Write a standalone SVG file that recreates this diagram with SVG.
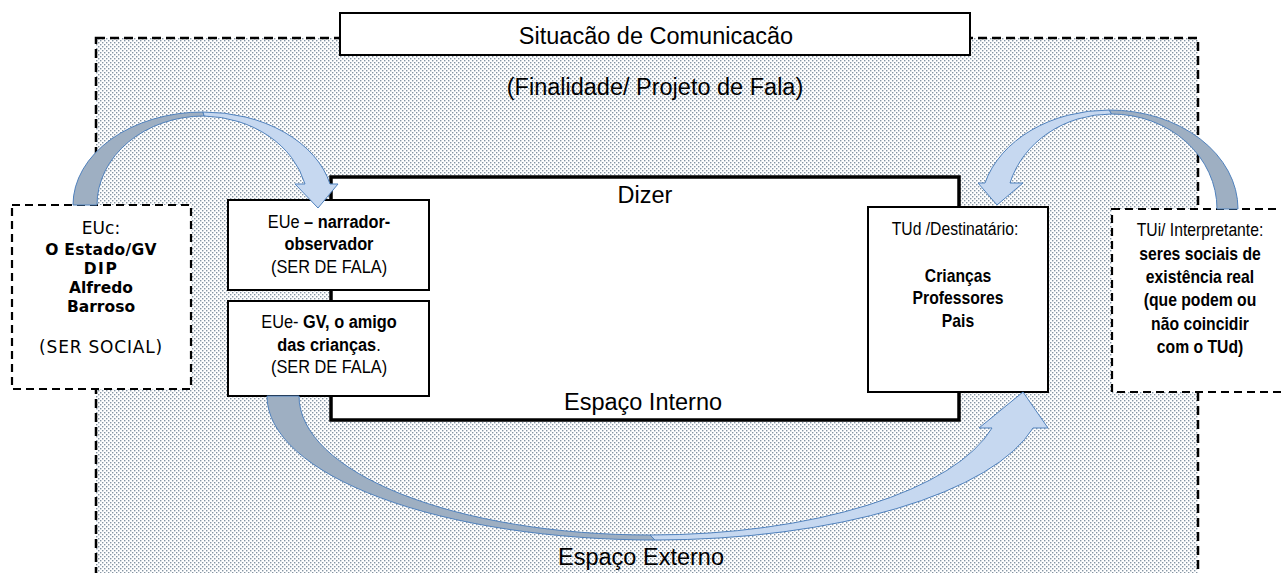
<svg xmlns="http://www.w3.org/2000/svg" width="1281" height="573" viewBox="0 0 1281 573">
<defs>
<pattern id="dots" width="4" height="4" patternUnits="userSpaceOnUse">
<rect width="4" height="4" fill="#ffffff"/>
<rect x="0" y="0" width="1.4" height="1.4" fill="#8595a4"/>
<rect x="2" y="2" width="1.4" height="1.4" fill="#8595a4"/>
</pattern>
<style>
.big{font-family:"Liberation Sans",Arial,sans-serif;font-size:23.5px;fill:#000;text-anchor:middle}
.sm{font-family:"Liberation Sans",Arial,sans-serif;font-size:19px;fill:#000;text-anchor:middle}
.nar{font-family:"Liberation Sans",Arial,sans-serif;font-size:18.5px;fill:#000;text-anchor:middle}
.ver{font-family:"DejaVu Sans",Verdana,sans-serif;fill:#000;text-anchor:middle}
.b{font-weight:bold}
.solid{fill:#fff;stroke:#000;stroke-width:2}
.dash{fill:#fff;stroke:#000;stroke-width:2.2;stroke-dasharray:8 5}
.dark{fill:#9eafc2;stroke:#4f81bd;stroke-width:1}
.light{fill:#c6d8f0;stroke:#4f81bd;stroke-width:1}
</style>
</defs>
<g id="outer">
<rect x="96" y="38" width="1102" height="560" fill="url(#dots)" stroke="#000" stroke-width="2.5" stroke-dasharray="9 5"/>
<text class="big" x="655" y="95">(Finalidade/ Projeto de Fala)</text>
<text class="big" x="641" y="565">Espaço Externo</text>
</g>
<g id="title">
<rect class="solid" x="340" y="13" width="630" height="42"/>
<text class="big" x="656" y="44">Situacão de Comunicacão</text>
</g>
<g id="dizer">
<rect x="331" y="177" width="628" height="243" fill="#fff" stroke="#000" stroke-width="3.5"/>
<text class="big" x="645" y="203">Dizer</text>
<text class="big" x="643" y="410">Espaço Interno</text>
</g>
<g id="euc">
<rect class="dash" x="12" y="205" width="179" height="184"/>
<text class="ver" font-size="17" x="101" y="234">EUc:</text>
<text class="ver b" font-size="15.5" x="101" y="255" letter-spacing="0.3">O Estado/GV</text>
<text class="ver b" font-size="15.5" x="101" y="274" letter-spacing="1.5">DIP</text>
<text class="ver b" font-size="15.5" x="101" y="293">Alfredo</text>
<text class="ver b" font-size="15.5" x="101" y="312">Barroso</text>
<text class="ver" font-size="17" x="101" y="353" letter-spacing="0.8">(SER SOCIAL)</text>
</g>
<g id="eue1">
<rect class="solid" x="228" y="200" width="201" height="90"/>
<text class="sm" transform="translate(329,228) scale(0.86,1)">EUe <tspan class="b">– narrador-</tspan></text>
<text class="sm b" transform="translate(329,250) scale(0.86,1)">observador</text>
<text class="sm" transform="translate(329,273) scale(0.86,1)">(SER DE FALA)</text>
</g>
<g id="eue2">
<rect class="solid" x="228" y="301" width="201" height="95"/>
<text class="sm" transform="translate(329,328) scale(0.86,1)">EUe- <tspan class="b">GV, o amigo</tspan></text>
<text class="sm" transform="translate(329,351) scale(0.86,1)"><tspan class="b">das crianças</tspan>.</text>
<text class="sm" transform="translate(329,373) scale(0.86,1)">(SER DE FALA)</text>
</g>
<g id="tud">
<rect class="solid" x="868" y="207" width="180" height="185"/>
<text class="nar" transform="translate(955,235) scale(0.85,1)">TUd /Destinatário:</text>
<text class="nar b" transform="translate(958,282) scale(0.85,1)">Crianças</text>
<text class="nar b" transform="translate(958,304) scale(0.85,1)">Professores</text>
<text class="nar b" transform="translate(958,327) scale(0.85,1)">Pais</text>
</g>
<g id="tui">
<rect class="dash" x="1112" y="209" width="175" height="183"/>
<text class="nar" transform="translate(1200,236) scale(0.85,1)">TUi/ Interpretante:</text>
<text class="nar b" transform="translate(1200,260) scale(0.85,1)">seres sociais de</text>
<text class="nar b" transform="translate(1200,283) scale(0.85,1)">existência real</text>
<text class="nar b" transform="translate(1200,306) scale(0.85,1)">(que podem ou</text>
<text class="nar b" transform="translate(1200,330) scale(0.85,1)">não coincidir</text>
<text class="nar b" transform="translate(1200,353) scale(0.85,1)">com o TUd)</text>
</g>
<g id="connectors">
<path class="dark" d="M73,205 A130,93 0 0 1 203,112 L204,116 A107,89 0 0 0 97,205 Z"/>
<path class="light" d="M203,112 A130,93 0 0 1 330,184 L338,184 L318,208 L295,184 L305,184 A107,89 0 0 0 204,116 Z"/>
<path class="dark" d="M1238,209 A128.8,99 0 0 0 1109,110 L1111.5,114 A105.5,95 0 0 1 1217,209 Z"/>
<path class="light" d="M1109,110 A128.8,99 0 0 0 985,183 L978,183 L997,205 L1023,183 L1010,183 A105.5,95 0 0 1 1111.5,114 Z"/>
<path class="dark" d="M267,396 A388,144 0 0 0 655,540 L650,535 A351,139 0 0 1 299,396 Z"/>
<path class="light" d="M655,540 A388,144 0 0 0 1033,428 L1048,428 L1023,392 L979,428 L992,428 A351,139 0 0 1 650,535 Z"/>
</g>
</svg>
